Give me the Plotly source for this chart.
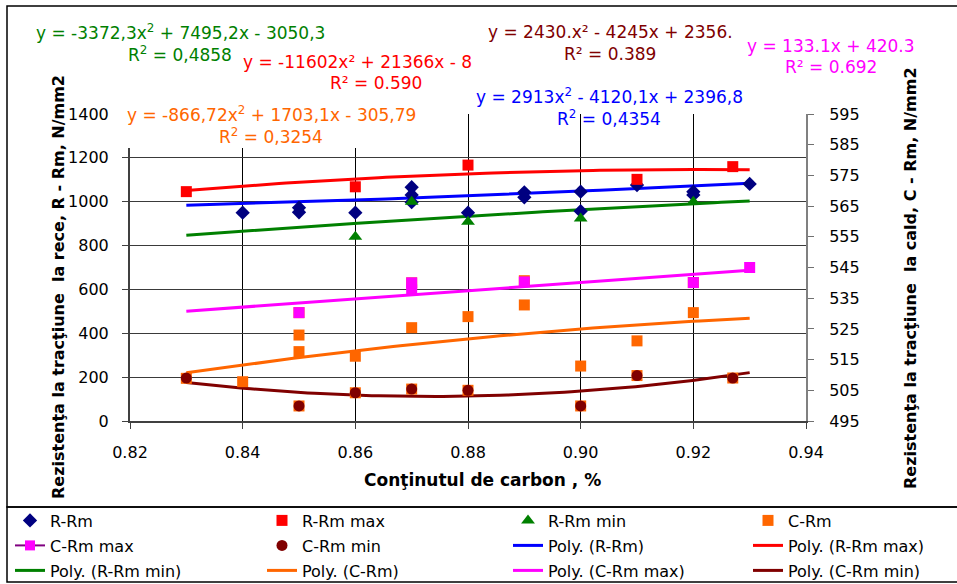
import numpy as np
import plotly.graph_objects as go

W, H = 957, 584
ML, MR, MT, MB = 130, 151, 114, 163
PW = W - ML - MR
PH = H - MT - MB


def px(x):
    return (x - ML) / PW


def py(y):
    return (H - MB - y) / PH


# ---------------- data ----------------
# cold tensile strength (left axis, N/mm2)
rrm_x = [0.84, 0.85, 0.85, 0.86, 0.87, 0.87, 0.87, 0.88, 0.89, 0.89, 0.90, 0.90, 0.91, 0.92, 0.92, 0.93]
rrm_y = [950, 973, 952, 950, 1066, 1031, 998, 950, 1043, 1020, 1046, 957, 1076, 1046, 1031, 1081]
rmax_x = [0.83, 0.86, 0.88, 0.91, 0.927]
rmax_y = [1046, 1068, 1167, 1102, 1160]
rmin_x = [0.86, 0.87, 0.88, 0.90, 0.92]
rmin_y = [840, 1000, 909, 924, 1000]

# hot tensile strength (right axis, N/mm2)
crm_x = [0.83, 0.84, 0.85, 0.85, 0.85, 0.85, 0.86, 0.86, 0.87, 0.87, 0.87, 0.88, 0.88,
         0.89, 0.89, 0.90, 0.90, 0.91, 0.91, 0.92, 0.92, 0.927]
crm_y = [508.9, 507.8, 530.3, 523.0, 517.6, 499.9, 516.1, 504.2, 540.0, 525.4, 505.4, 529.0, 505.0,
         540.7, 532.8, 512.9, 499.9, 521.1, 509.8, 540.1, 530.3, 509.0]
cmax_x = [0.85, 0.87, 0.87, 0.89, 0.92, 0.93]
cmax_y = [530.3, 540.0, 537.7, 540.3, 540.1, 545.0]
cmin_x = [0.83, 0.85, 0.86, 0.87, 0.88, 0.90, 0.91, 0.927]
cmin_y = [509.0, 499.9, 504.2, 505.4, 505.0, 499.9, 509.8, 509.0]

# trendline coefficients (highest power first)
poly_rrm = [2913, -4120.1, 2396.8]
poly_rmax = [-11602, 21366, -8690]
poly_rmin = [-3372.3, 7495.2, -3050.3]
poly_crm = [-866.72, 1703.1, -305.79]
poly_cmax = [133.1, 420.3]
poly_cmin = [2430, -4245, 2356.9]
trend_range = [0.83, 0.93]

x_ticks = [0.82, 0.84, 0.86, 0.88, 0.90, 0.92, 0.94]

NAVY, RED, GREEN, ORANGE = "#000080", "#FF0000", "#008000", "#FF6600"
MAGENTA, BROWN, BLUE, PURPLE = "#FF00FF", "#800000", "#0000FF", "#800080"
FONT = "DejaVu Sans"

fig = go.Figure()

xs = np.linspace(trend_range[0], trend_range[1], 80)

trend_specs = [
    ("Poly. (R-Rm)", poly_rrm, BLUE, "y", "legend3", 2),
    ("Poly. (R-Rm max)", poly_rmax, RED, "y", "legend4", 2),
    ("Poly. (R-Rm min)", poly_rmin, GREEN, "y", "legend", 3),
    ("Poly. (C-Rm)", poly_crm, ORANGE, "y2", "legend2", 3),
    ("Poly. (C-Rm max)", poly_cmax, MAGENTA, "y2", "legend3", 3),
    ("Poly. (C-Rm min)", poly_cmin, BROWN, "y2", "legend4", 3),
]
for name, coef, col, yax, lg, rank in trend_specs:
    fig.add_trace(go.Scatter(
        x=xs, y=np.polyval(coef, xs), mode="lines", name=name, yaxis=yax,
        line=dict(color=col, width=3), legend=lg, legendrank=rank, legendgroup=name,
        hoverinfo="skip"))

marker_specs = [
    ("R-Rm", rrm_x, rrm_y, dict(symbol="diamond", size=11, color=NAVY), "y", "legend", 1),
    ("R-Rm max", rmax_x, rmax_y, dict(symbol="square", size=11, color=RED), "y", "legend2", 1),
    ("R-Rm min", rmin_x, rmin_y, dict(symbol="triangle-up", size=12, color=GREEN), "y", "legend3", 1),
    ("C-Rm", crm_x, crm_y, dict(symbol="square", size=11, color=ORANGE), "y2", "legend4", 1),
    ("C-Rm max", cmax_x, cmax_y, dict(symbol="square", size=11, color=MAGENTA), "y2", None, 2),
    ("C-Rm min", cmin_x, cmin_y, dict(symbol="circle", size=11, color=BROWN), "y2", "legend2", 2),
]
for name, xv, yv, mk, yax, lg, rank in marker_specs:
    fig.add_trace(go.Scatter(
        x=xv, y=yv, mode="markers", name=name, yaxis=yax, marker=mk,
        legend=lg if lg else "legend", legendrank=rank, legendgroup=name,
        showlegend=lg is not None))

# legend entry for C-Rm max (line + marker, as in the original)
fig.add_trace(go.Scatter(
    x=[None], y=[None], mode="lines+markers", name="C-Rm max",
    line=dict(color=PURPLE, width=2), marker=dict(symbol="square", size=10, color=MAGENTA),
    legend="legend", legendrank=2, legendgroup="C-Rm max legend"))

# ---------------- annotations ----------------
ann = []


def add_text(text, cx, cy, color, anchor="center", size=17, bg=None):
    d = dict(text=text, x=px(cx), y=py(cy), xref="paper", yref="paper",
             xanchor=anchor, yanchor="middle", showarrow=False,
             font=dict(family=FONT, size=size, color=color))
    if bg:
        d["bgcolor"] = bg
    ann.append(d)


add_text("y = -3372,3x<sup>2</sup> + 7495,2x - 3050,3", 180, 32, GREEN)
add_text("R<sup>2</sup> = 0,4858", 180, 54, GREEN)
add_text("y = -11602x² + 21366x - 8", 241, 62, RED, anchor="left")
add_text("R² = 0.590", 376, 83, RED)
add_text("y = 2430.x² - 4245x + 2356.", 610, 32, BROWN)
add_text("R² = 0.389", 610, 54, BROWN)
add_text("y = 133.1x + 420.3", 831, 46, MAGENTA)
add_text("R² = 0.692", 831, 67, MAGENTA)
add_text("y = -866,72x<sup>2</sup> + 1703,1x - 305,79", 271, 114, ORANGE)
add_text("R<sup>2</sup> = 0,3254", 271, 136, ORANGE)
add_text("y = 2913x<sup>2</sup> - 4120,1x + 2396,8", 609, 96, BLUE)
add_text("R<sup>2</sup> = 0,4354", 609, 118, BLUE)

# axis titles
ann.append(dict(text="Rezistenţa la tracţiune  la rece, R - Rm, N/mm2", x=px(58), y=py(287),
                xref="paper", yref="paper", textangle=-90, showarrow=False,
                xanchor="center", yanchor="middle",
                font=dict(family=FONT, size=16, color="black", weight="bold")))
ann.append(dict(text="Rezistenţa la tracţiune  la cald, C - Rm, N/mm2", x=px(910), y=py(278),
                xref="paper", yref="paper", textangle=-90, showarrow=False,
                xanchor="center", yanchor="middle",
                font=dict(family=FONT, size=16, color="black", weight="bold")))
ann.append(dict(text="Conţinutul de carbon , %", x=px(482), y=py(480),
                xref="paper", yref="paper", showarrow=False,
                xanchor="center", yanchor="middle",
                font=dict(family=FONT, size=17, color="black", weight="bold")))

shapes = [
    # white box behind the orange equation
    dict(type="rect", xref="paper", yref="paper", x0=px(118), x1=px(428), y0=py(148), y1=py(101),
         fillcolor="white", line=dict(width=0), layer="above"),
    # outer chart border and legend box
    dict(type="rect", xref="paper", yref="paper", x0=px(7), x1=px(965), y0=py(507), y1=py(6),
         line=dict(color="black", width=1.5), fillcolor="rgba(0,0,0,0)", layer="above"),
    dict(type="rect", xref="paper", yref="paper", x0=px(7), x1=px(965), y0=py(582), y1=py(507),
         line=dict(color="black", width=1.5), fillcolor="rgba(0,0,0,0)", layer="above"),
]

axis_font = dict(family=FONT, size=16, color="black")
leg_common = dict(orientation="v", xanchor="left", yanchor="top", bgcolor="rgba(0,0,0,0)",
                  font=dict(family=FONT, size=16, color="black"), tracegroupgap=1.2,
                  itemsizing="trace")
top = py(503.5)

fig.update_layout(
    width=W, height=H,
    margin=dict(l=ML, r=MR, t=MT, b=MB, autoexpand=False),
    paper_bgcolor="white", plot_bgcolor="white",
    font=dict(family=FONT, color="black"),
    xaxis=dict(range=[0.82, 0.94], tickvals=x_ticks, tickformat=".2f", ticks="outside",
               ticklen=6, tickcolor="#404040", showgrid=True, gridcolor="#000000", gridwidth=1,
               showline=True, linecolor="#404040", linewidth=2, zeroline=False,
               tickfont=axis_font, ticklabelstandoff=10),
    yaxis=dict(range=[0, 1400], dtick=200, ticks="outside", ticklen=6, tickcolor="#404040",
               showgrid=True, gridcolor="#3a3a3a", gridwidth=1, showline=True,
               linecolor="#404040", linewidth=2, zeroline=False, tickfont=axis_font,
               ticklabelstandoff=10),
    yaxis2=dict(range=[495, 595], tick0=495, dtick=10, overlaying="y", side="right",
                ticks="outside", ticklen=6, tickcolor="#707070", showgrid=False,
                showline=True, linecolor="#808080", linewidth=2, zeroline=False,
                tickfont=axis_font, ticklabelstandoff=12),
    legend=dict(x=px(10), y=top, **leg_common),
    legend2=dict(x=px(262), y=top, **leg_common),
    legend3=dict(x=px(508), y=top, **leg_common),
    legend4=dict(x=px(748), y=top, **leg_common),
    annotations=ann,
    shapes=shapes,
    showlegend=True,
)

fig.write_html("out.html")
